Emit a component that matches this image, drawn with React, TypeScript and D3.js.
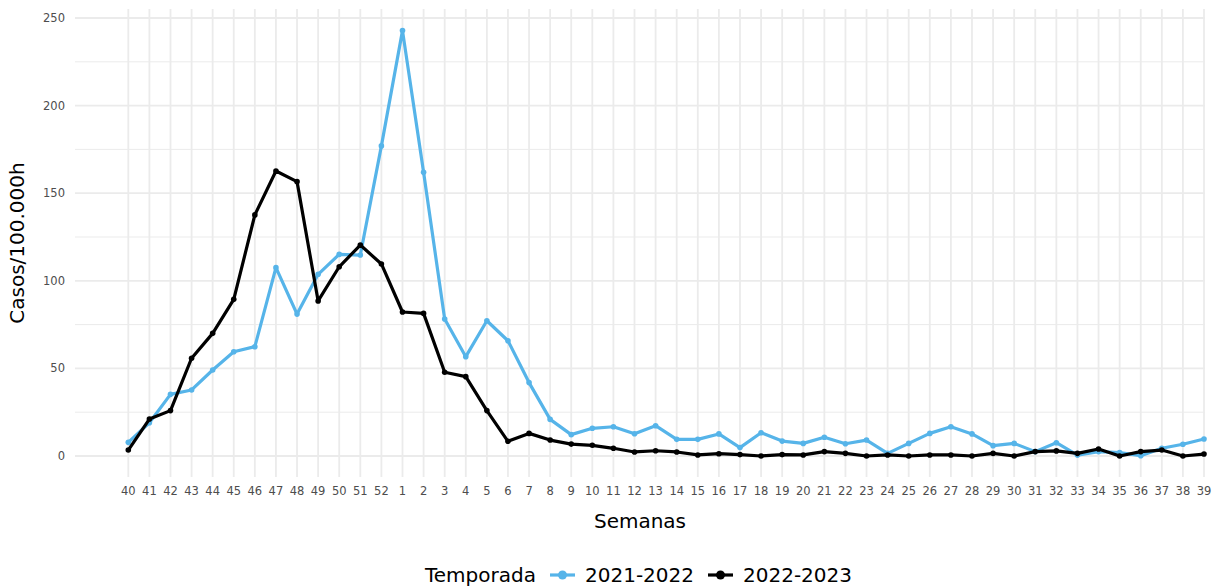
import React from "react";
import * as d3 from "d3";

const weeks: string[] = [
  "40","41","42","43","44","45","46","47","48","49","50","51","52",
  "1","2","3","4","5","6","7","8","9","10","11","12","13","14","15","16","17","18","19","20",
  "21","22","23","24","25","26","27","28","29","30","31","32","33","34","35","36","37","38","39",
];

const season2122: number[] = [
  7.8, 19, 35.2, 37.7, 49.1, 59.5, 62.4, 107.5, 81, 103.7, 115.1, 114.7, 177,
  242.8, 161.9, 78.2, 56.7, 77.2, 65.8, 41.9, 20.9, 12.2, 15.8, 16.7, 12.7, 17.3, 9.5, 9.5, 12.6, 4.8, 13.3, 8.5, 7.2,
  10.7, 7.0, 9.1, 1.5, 7.2, 12.9, 16.7, 12.6, 5.9, 7.2, 2.5, 7.6, 0.5, 2.5, 1.9, 0.2, 4.4, 6.7, 9.7,
];

const season2223: number[] = [
  3.4, 21.1, 25.9, 55.8, 70, 89.4, 137.6, 162.7, 156.6, 88.5, 108, 120.4, 109.6,
  82.2, 81.4, 47.8, 45.3, 25.9, 8.4, 12.9, 9.1, 6.8, 6.1, 4.4, 2.3, 3.0, 2.3, 0.6, 1.3, 0.8, 0, 0.8, 0.6,
  2.5, 1.5, 0, 0.6, 0, 0.6, 0.6, 0, 1.5, 0, 2.5, 2.9, 1.5, 4.0, 0, 2.5, 3.4, 0, 1.1,
];

const yTicks: number[] = [0, 50, 100, 150, 200, 250];
const yMinor: number[] = [25, 75, 125, 175, 225];

const seriesNames: string[] = ["2021-2022", "2022-2023"];
const seriesColors: string[] = ["#56B4E9", "#000000"];

const FONT = "DejaVu Sans, sans-serif";

export default function App() {
  const W = 1217, H = 587;
  const panel = { left: 75, right: 1205, top: 9, bottom: 477 };
  const x = d3.scalePoint<string>().domain(weeks).range([128.3, 1204]);
  const y = d3.scaleLinear().domain([0, 250]).range([456, 18]);

  const series = [season2122, season2223];
  const line = d3
    .line<number>()
    .x((_, i) => x(weeks[i]) as number)
    .y((d) => y(d));

  const cx = (panel.left + panel.right) / 2;
  const cy = (panel.top + panel.bottom) / 2;

  return (
    <svg width={W} height={H} style={{ position: "absolute", left: 0, top: 0, background: "#fff" }}>
      {/* minor horizontal gridlines */}
      {yMinor.map((t) => (
        <line key={"m" + t} x1={panel.left} x2={panel.right} y1={y(t)} y2={y(t)} stroke="#EBEBEB" strokeWidth={1} />
      ))}
      {/* major horizontal gridlines */}
      {yTicks.map((t) => (
        <line key={"h" + t} x1={panel.left} x2={panel.right} y1={y(t)} y2={y(t)} stroke="#EBEBEB" strokeWidth={1.8} />
      ))}
      {/* vertical gridlines */}
      {weeks.map((w) => (
        <line key={"v" + w} x1={x(w)} x2={x(w)} y1={panel.top} y2={panel.bottom} stroke="#EBEBEB" strokeWidth={1.8} />
      ))}

      {/* series */}
      {series.map((s, k) => (
        <g key={"s" + k}>
          <path d={line(s) || ""} fill="none" stroke={seriesColors[k]} strokeWidth={3.2} strokeLinejoin="round" strokeLinecap="round" />
          {s.map((v, i) => (
            <circle key={i} cx={x(weeks[i])} cy={y(v)} r={2.8} fill={seriesColors[k]} />
          ))}
        </g>
      ))}

      {/* y tick labels */}
      {yTicks.map((t) => (
        <text key={"yt" + t} x={65} y={y(t)} dy="0.35em" textAnchor="end" fontFamily={FONT} fontSize={11.5} fill="#4D4D4D">
          {t}
        </text>
      ))}
      {/* x tick labels */}
      {weeks.map((w) => (
        <text key={"xt" + w} x={x(w)} y={491} dy="0.35em" textAnchor="middle" fontFamily={FONT} fontSize={11.5} fill="#4D4D4D">
          {w}
        </text>
      ))}

      {/* axis titles */}
      <text x={cx} y={521} dy="0.35em" textAnchor="middle" fontFamily={FONT} fontSize={20} fill="#000">
        Semanas
      </text>
      <text transform={`translate(17,${cy}) rotate(-90)`} dy="0.35em" textAnchor="middle" fontFamily={FONT} fontSize={20} fill="#000">
        Casos/100.000h
      </text>

      {/* legend */}
      <g>
        <text x={425} y={575} dy="0.35em" fontFamily={FONT} fontSize={20} fill="#000">Temporada</text>
        {seriesNames.map((n, k) => {
          const kx = 550 + k * 158;
          return (
            <g key={"lg" + k}>
              <line x1={kx} x2={kx + 25} y1={575} y2={575} stroke={seriesColors[k]} strokeWidth={3.2} />
              <circle cx={kx + 12.5} cy={575} r={4.5} fill={seriesColors[k]} />
              <text x={kx + 35} y={575} dy="0.35em" fontFamily={FONT} fontSize={20} fill="#000">{n}</text>
            </g>
          );
        })}
      </g>
    </svg>
  );
}
